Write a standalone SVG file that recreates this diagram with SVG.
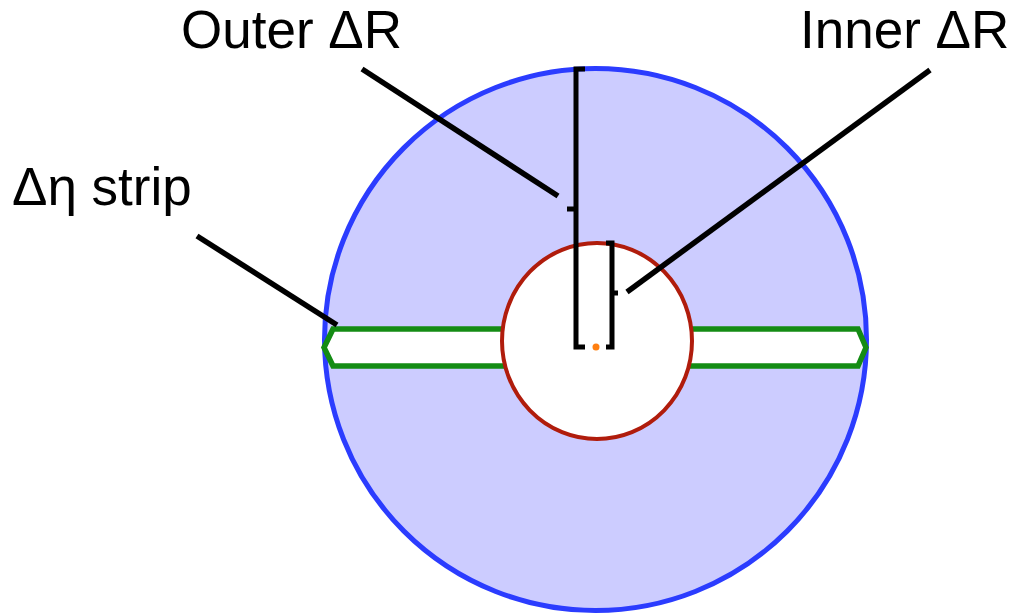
<svg xmlns="http://www.w3.org/2000/svg" width="1021" height="615" viewBox="0 0 1021 615">
<style>
.lbl{font-family:"Liberation Sans",Arial,sans-serif;font-size:53px;fill:#000}
.lead{stroke:#000;stroke-width:5.5;fill:none}
.br{stroke:#000;stroke-width:5;fill:none;stroke-linejoin:miter}
</style>
<rect width="1021" height="615" fill="#fff"/>
<g id="outer-ring">
<circle cx="595.5" cy="339.5" r="271" fill="#ccccff" stroke="#2b3cff" stroke-width="5"/>
</g>
<g id="eta-strip">
<polygon points="333,329 858,329 866,347.5 858,366 333,366 324,347.5" fill="#fff" stroke="#148c14" stroke-width="5.5" stroke-linejoin="miter"/>
</g>
<g id="inner-circle">
<ellipse cx="597" cy="341" rx="95" ry="98" fill="#fff" stroke="#b01c0c" stroke-width="4"/>
</g>
<g id="center">
<circle cx="596" cy="347" r="3.5" fill="#ff7f10"/>
</g>
<g id="outer-bracket">
<path class="br" d="M585,69 H576 V347 H585 M576,209 H567"/>
</g>
<g id="inner-bracket">
<path class="br" d="M606,243 H612 V347 H606 M612,293 H618"/>
</g>
<g id="connectors">
<line class="lead" x1="362" y1="69" x2="558" y2="196"/>
<line class="lead" x1="930" y1="70" x2="627" y2="292"/>
<line class="lead" x1="197" y1="236" x2="337" y2="325"/>
</g>
<g id="labels">
<text class="lbl" x="181" y="48">Outer ΔR</text>
<text class="lbl" x="800" y="48">Inner ΔR</text>
<text class="lbl" x="12" y="205">Δη strip</text>
</g>
</svg>
